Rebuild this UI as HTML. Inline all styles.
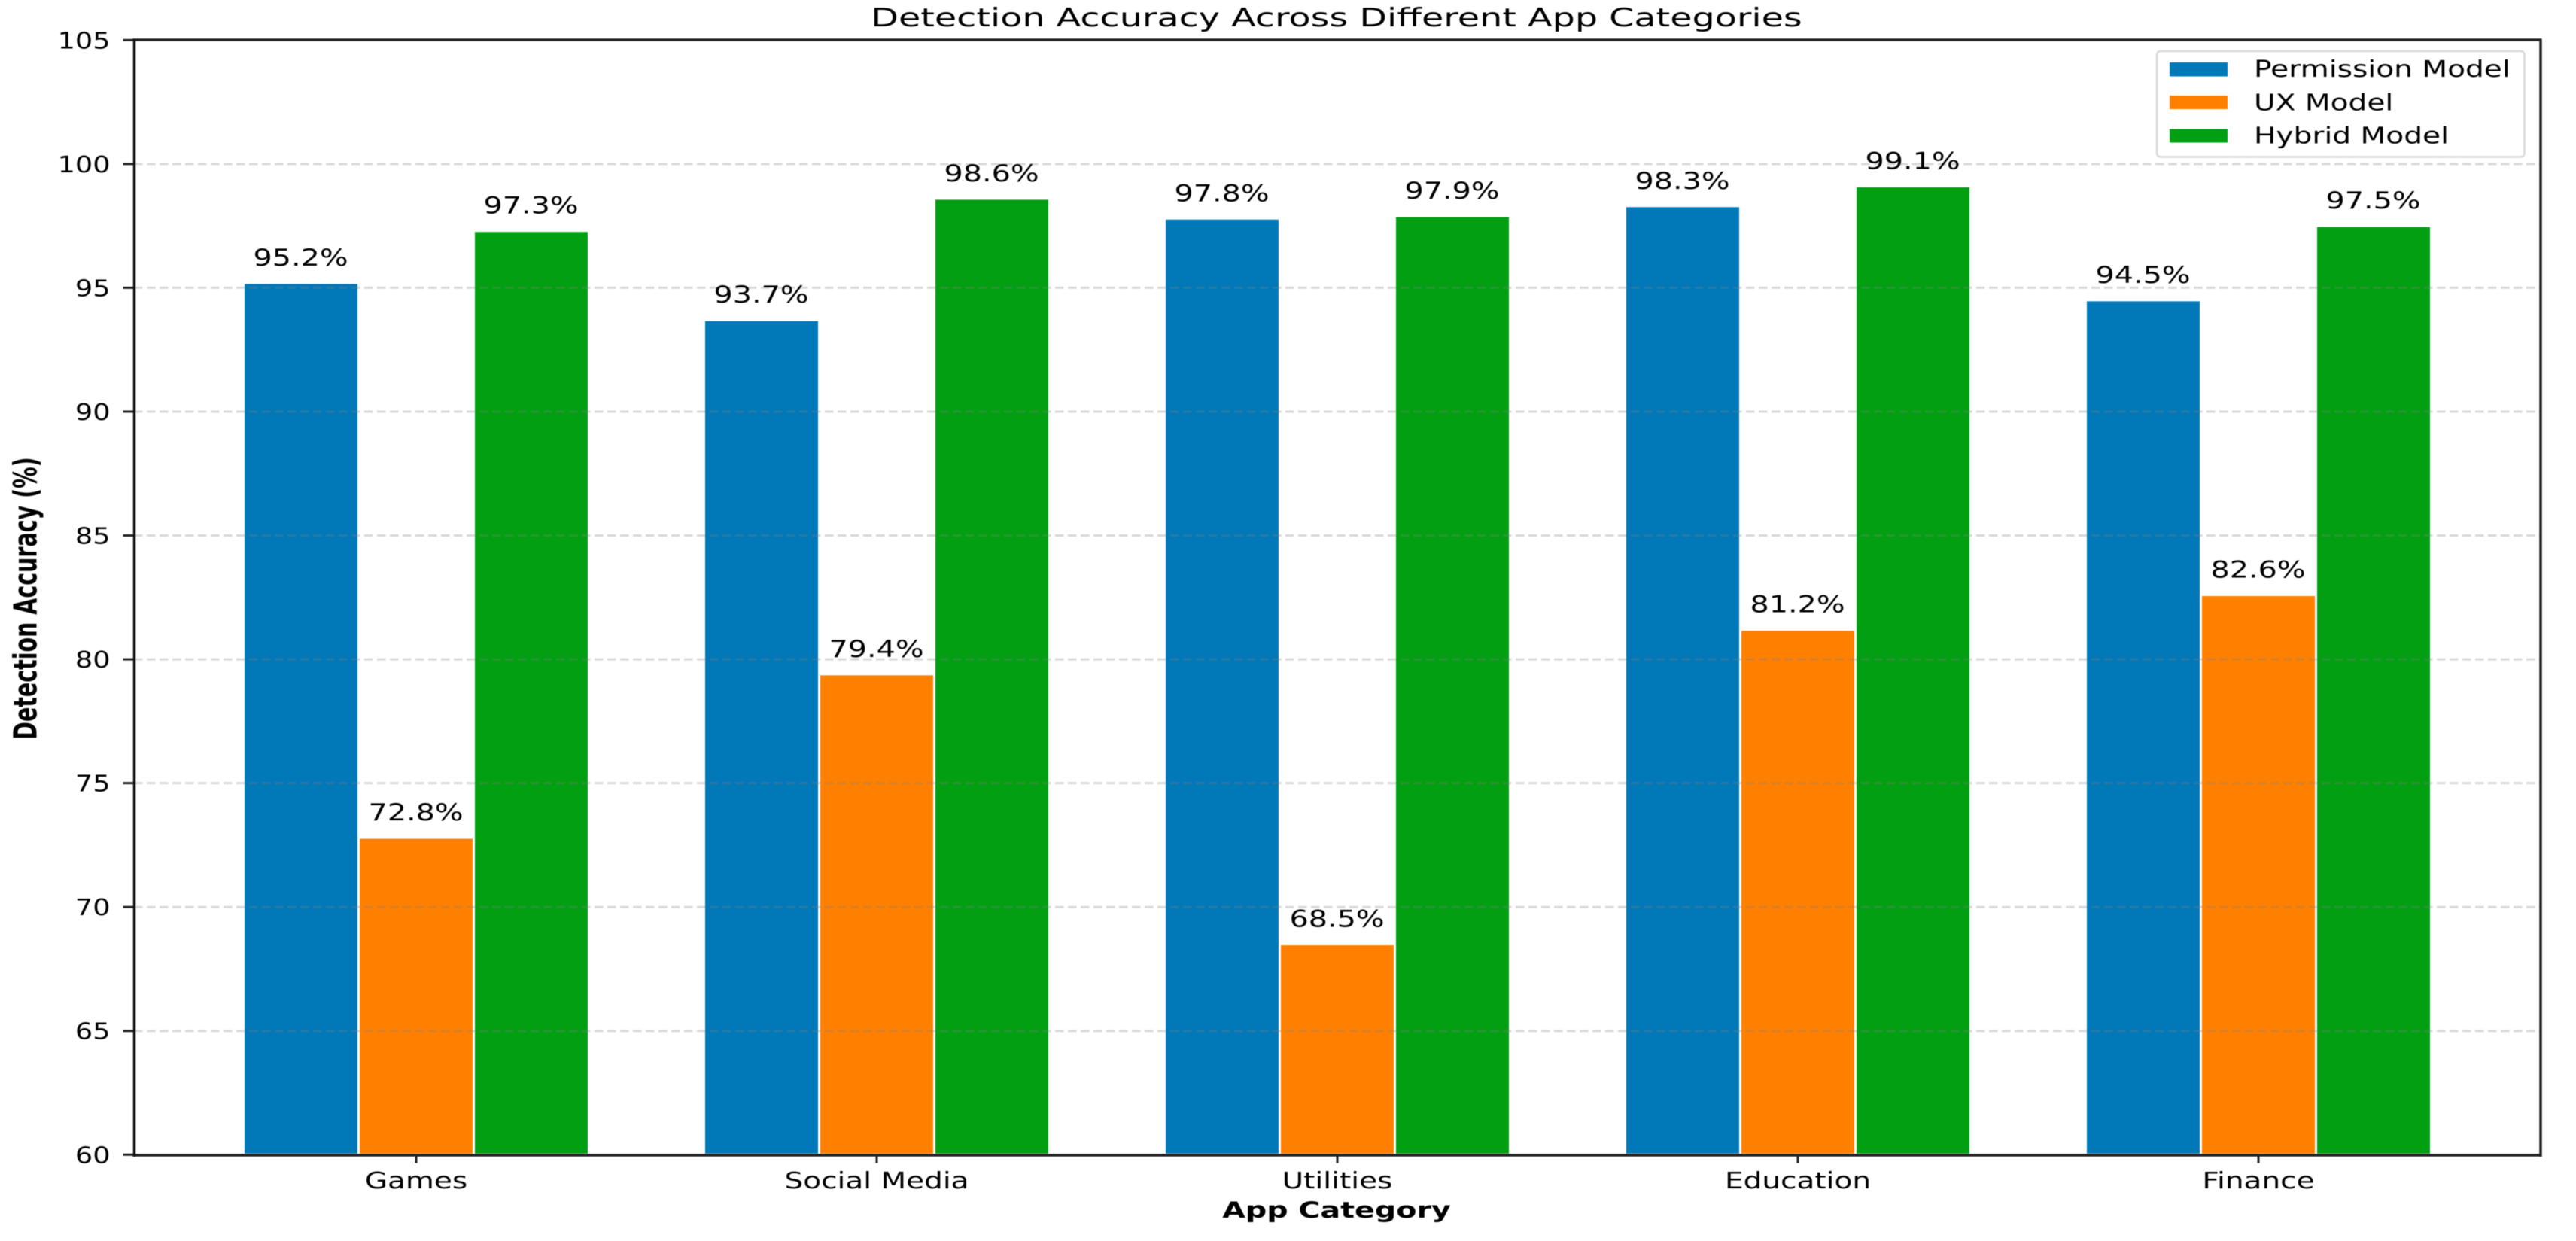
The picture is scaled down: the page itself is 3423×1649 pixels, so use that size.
<!DOCTYPE html>
<html lang="en">
<head>
<meta charset="utf-8">
<title>Detection Accuracy Across Different App Categories</title>
<style>
html,body{margin:0;padding:0;background:#fff;width:3423px;height:1649px;overflow:hidden}
svg{display:block;filter:blur(0.6px)}
text{font-family:"DejaVu Sans","Liberation Sans",sans-serif;fill:#000}
</style>
</head>
<body>
<svg id="chart" xmlns="http://www.w3.org/2000/svg" width="3423" height="1649" viewBox="0 0 3423 1649">
  <rect x="0" y="0" width="3423" height="1649" fill="#fff"/>
  <g id="bars"></g>
  <g id="grid"></g>
  <g id="value-labels"></g>
  <g id="ticks"></g>
  <g>
    <line x1="176.5" y1="53" x2="3377.5" y2="53" stroke="#222" stroke-width="3.5"/>
    <line x1="176.5" y1="1535" x2="3377.5" y2="1535" stroke="#222" stroke-width="3.5"/>
    <line x1="178.5" y1="52" x2="178.5" y2="1537" stroke="#111" stroke-width="3.5"/>
    <line x1="3376" y1="52" x2="3376" y2="1537" stroke="#222" stroke-width="3.5"/>
  </g>
  <text font-size="34" text-anchor="middle" transform="translate(1776,35) scale(1.4,1)">Detection Accuracy Across Different App Categories</text>
  <text font-size="29" font-weight="700" text-anchor="middle" transform="translate(1776,1618) scale(1.366,1)">App Category</text>
  <text font-size="28.5" font-weight="700" text-anchor="middle" transform="translate(48.3,795) rotate(-90) scale(1,1.49)">Detection Accuracy (%)</text>
  <g>
    <rect x="2866" y="68" width="488.5" height="140.5" rx="5" ry="5" fill="#fff" stroke="#d9d9d9" stroke-width="2.5"/>
    <g>
      <rect x="2883" y="83" width="77" height="18.5" fill="#0178b8"/>
      <text font-size="30" transform="translate(2995,102) scale(1.304,1)">Permission Model</text>
    </g>
    <g>
      <rect x="2883" y="127" width="77" height="18" fill="#ff7f00"/>
      <text font-size="30" transform="translate(2995,146.5) scale(1.304,1)">UX Model</text>
    </g>
    <g>
      <rect x="2883" y="171.5" width="77" height="18" fill="#029f12"/>
      <text font-size="30" transform="translate(2995,190.5) scale(1.304,1)">Hybrid Model</text>
    </g>
  </g>
</svg>
<script>
const categories = ["Games", "Social Media", "Utilities", "Education", "Finance"];
const permissionValues = [95.2, 93.7, 97.8, 98.3, 94.5];
const uxValues = [72.8, 79.4, 68.5, 81.2, 82.6];
const hybridValues = [97.3, 98.6, 97.9, 99.1, 97.5];
const yTickLabels = [60, 65, 70, 75, 80, 85, 90, 95, 100, 105];

const NS = "http://www.w3.org/2000/svg";
const yMin = 60, yMax = 105;
const plotTop = 53.3, plotBottom = 1534.3;
const firstCategoryX = 553, categoryStep = 612, barWidth = 153;
const plotLeft = 178, plotRight = 3376;

function yScale(v) {
  return plotBottom - (v - yMin) / (yMax - yMin) * (plotBottom - plotTop);
}
function xScale(i) {
  return firstCategoryX + i * categoryStep;
}
function make(tag, parent) {
  const node = document.createElementNS(NS, tag);
  parent.appendChild(node);
  return node;
}

const seriesList = [
  { key: "permission", values: permissionValues, color: "#0178b8", offset: -1 },
  { key: "ux", values: uxValues, color: "#ff7f00", offset: 0 },
  { key: "hybrid", values: hybridValues, color: "#029f12", offset: 1 }
];

const barsGroup = document.getElementById("bars");
const labelsGroup = document.getElementById("value-labels");
const gridGroup = document.getElementById("grid");
const ticksGroup = document.getElementById("ticks");

seriesList.forEach(function (series) {
  series.values.forEach(function (value, i) {
    const cx = xScale(i) + series.offset * barWidth;
    const top = yScale(value);
    const slug = categories[i].toLowerCase().replace(/\s+/g, "-");

    const bar = make("rect", barsGroup);
    
    
    bar.setAttribute("x", cx - barWidth / 2);
    bar.setAttribute("y", top);
    bar.setAttribute("width", barWidth);
    bar.setAttribute("height", yScale(yMin) - top);
    bar.setAttribute("fill", series.color);
    bar.setAttribute("stroke", "#fff");
    bar.setAttribute("stroke-width", "3");

    const label = make("text", labelsGroup);
    
    
    label.setAttribute("font-size", "31");
    label.setAttribute("text-anchor", "middle");
    label.setAttribute("transform", "translate(" + (cx - 0.5) + "," + (top - 23) + ") scale(1.28,1)");
    label.textContent = value.toFixed(1) + "%";
  });
});

yTickLabels.forEach(function (tick) {
  const y = yScale(tick);

  if (tick !== yMin && tick !== yMax) {
    const gridLine = make("line", gridGroup);
    
    
    gridLine.setAttribute("x1", plotLeft);
    gridLine.setAttribute("x2", plotRight);
    gridLine.setAttribute("y1", y);
    gridLine.setAttribute("y2", y);
    gridLine.setAttribute("stroke", "#808080");
    gridLine.setAttribute("stroke-opacity", "0.3");
    gridLine.setAttribute("stroke-width", "3");
    gridLine.setAttribute("stroke-dasharray", "11.5 5.5");
  }

  const tickMark = make("line", ticksGroup);
  
  
  tickMark.setAttribute("x1", 163.5);
  tickMark.setAttribute("x2", 178);
  tickMark.setAttribute("y1", y);
  tickMark.setAttribute("y2", y);
  tickMark.setAttribute("stroke", "#222");
  tickMark.setAttribute("stroke-width", "3");

  const tickText = make("text", ticksGroup);
  
  
  tickText.setAttribute("font-size", "30");
  tickText.setAttribute("text-anchor", "end");
  tickText.setAttribute("transform", "translate(146.5," + (y + 11) + ") scale(1.22,1)");
  tickText.textContent = tick;
});

categories.forEach(function (name, i) {
  const x = xScale(i);
  const slug = name.toLowerCase().replace(/\s+/g, "-");

  const tickMark = make("line", ticksGroup);
  
  
  tickMark.setAttribute("x1", x);
  tickMark.setAttribute("x2", x);
  tickMark.setAttribute("y1", plotBottom);
  tickMark.setAttribute("y2", 1545.5);
  tickMark.setAttribute("stroke", "#222");
  tickMark.setAttribute("stroke-width", "3");

  const tickText = make("text", ticksGroup);
  
  
  tickText.setAttribute("font-size", "30");
  tickText.setAttribute("text-anchor", "middle");
  tickText.setAttribute("transform", "translate(" + x + ",1579) scale(1.3,1)");
  tickText.textContent = name;
});
</script>
</body>
</html>
